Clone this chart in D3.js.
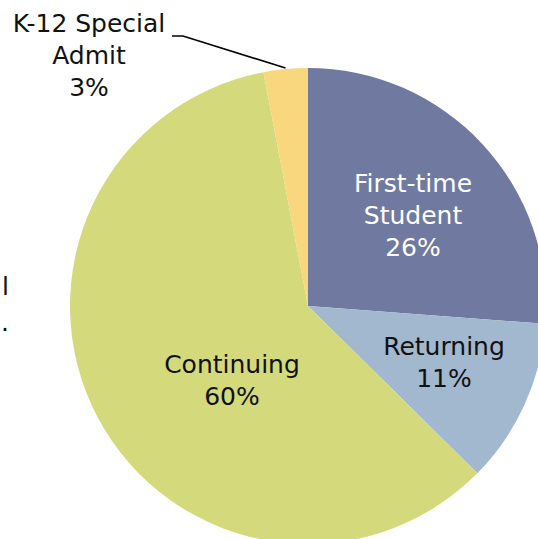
<!DOCTYPE html>
<html>
<head>
<meta charset="utf-8">
<script src="https://cdn.jsdelivr.net/npm/d3@7"></script>
<style>
  html, body { margin: 0; padding: 0; background: #fff; }
  svg { display: block; }
  text { font-family: "DejaVu Sans", sans-serif; }
</style>
</head>
<body>
<svg id="chart" width="538" height="539"></svg>
<script>
// ---- data ----
const categories = ["First-time Student", "Returning", "Continuing", "K-12 Special Admit"];
const values = [26.2, 11.2, 59.6, 3.0];
const labelLines = [["First-time", "Student"], ["Returning"], ["Continuing"], ["K-12 Special", "Admit"]];
const colors = ["#707aa0", "#a1b8cf", "#d4da7c", "#f9d77e"];
const textColors = ["#ffffff", "#111111", "#111111", "#111111"];

// ---- layout ----
const W = 538, H = 539;
const cx = 308, cy = 306, R = 238;
const fontSize = 25, lineH = 32;
// label block centers (x, first baseline y)
const labelAnchor = [[413, 192], [444, 355], [232, 373], [89, 32]];

const svg = d3.select("#chart");
const g = svg.append("g").attr("transform", `translate(${cx},${cy})`);

const pie = d3.pie().sort(null).value(d => d.v).startAngle(0).endAngle(2 * Math.PI);
const data = pie(categories.map((c, i) => ({ c, v: values[i], i })));
const arc = d3.arc().innerRadius(0).outerRadius(R);

g.selectAll("path.slice").data(data).enter().append("path")
  .attr("class", "slice")
  .attr("d", arc)
  .attr("fill", d => colors[d.data.i]);

// labels
data.forEach(d => {
  const i = d.data.i;
  const [lx, ly] = labelAnchor[i];
  const lines = labelLines[i].concat([d3.format(".0f")(d.data.v) + "%"]);
  const t = svg.append("text")
    .attr("text-anchor", "middle")
    .attr("font-size", fontSize)
    .attr("fill", textColors[i]);
  lines.forEach((ln, k) => {
    t.append("tspan").attr("x", lx).attr("y", ly + k * lineH).text(ln);
  });
});

// leader line for the small slice
const small = data[3];
const edgeAngle = (small.startAngle + small.endAngle) / 2;
const ex = cx + Math.sin(edgeAngle) * (R + 1);
const ey = cy - Math.cos(edgeAngle) * (R + 1);
svg.append("polyline")
  .attr("points", `172,36 183,36 ${ex},${ey}`)
  .attr("fill", "none")
  .attr("stroke", "#000")
  .attr("stroke-width", 1.6);

// clipped fragments of text at the left edge
svg.append("text").attr("x", 2).attr("y", 295).attr("font-size", fontSize).attr("fill", "#111").text("l");
svg.append("text").attr("x", 1).attr("y", 331).attr("font-size", fontSize).attr("fill", "#111").text(".");
</script>
</body>
</html>
